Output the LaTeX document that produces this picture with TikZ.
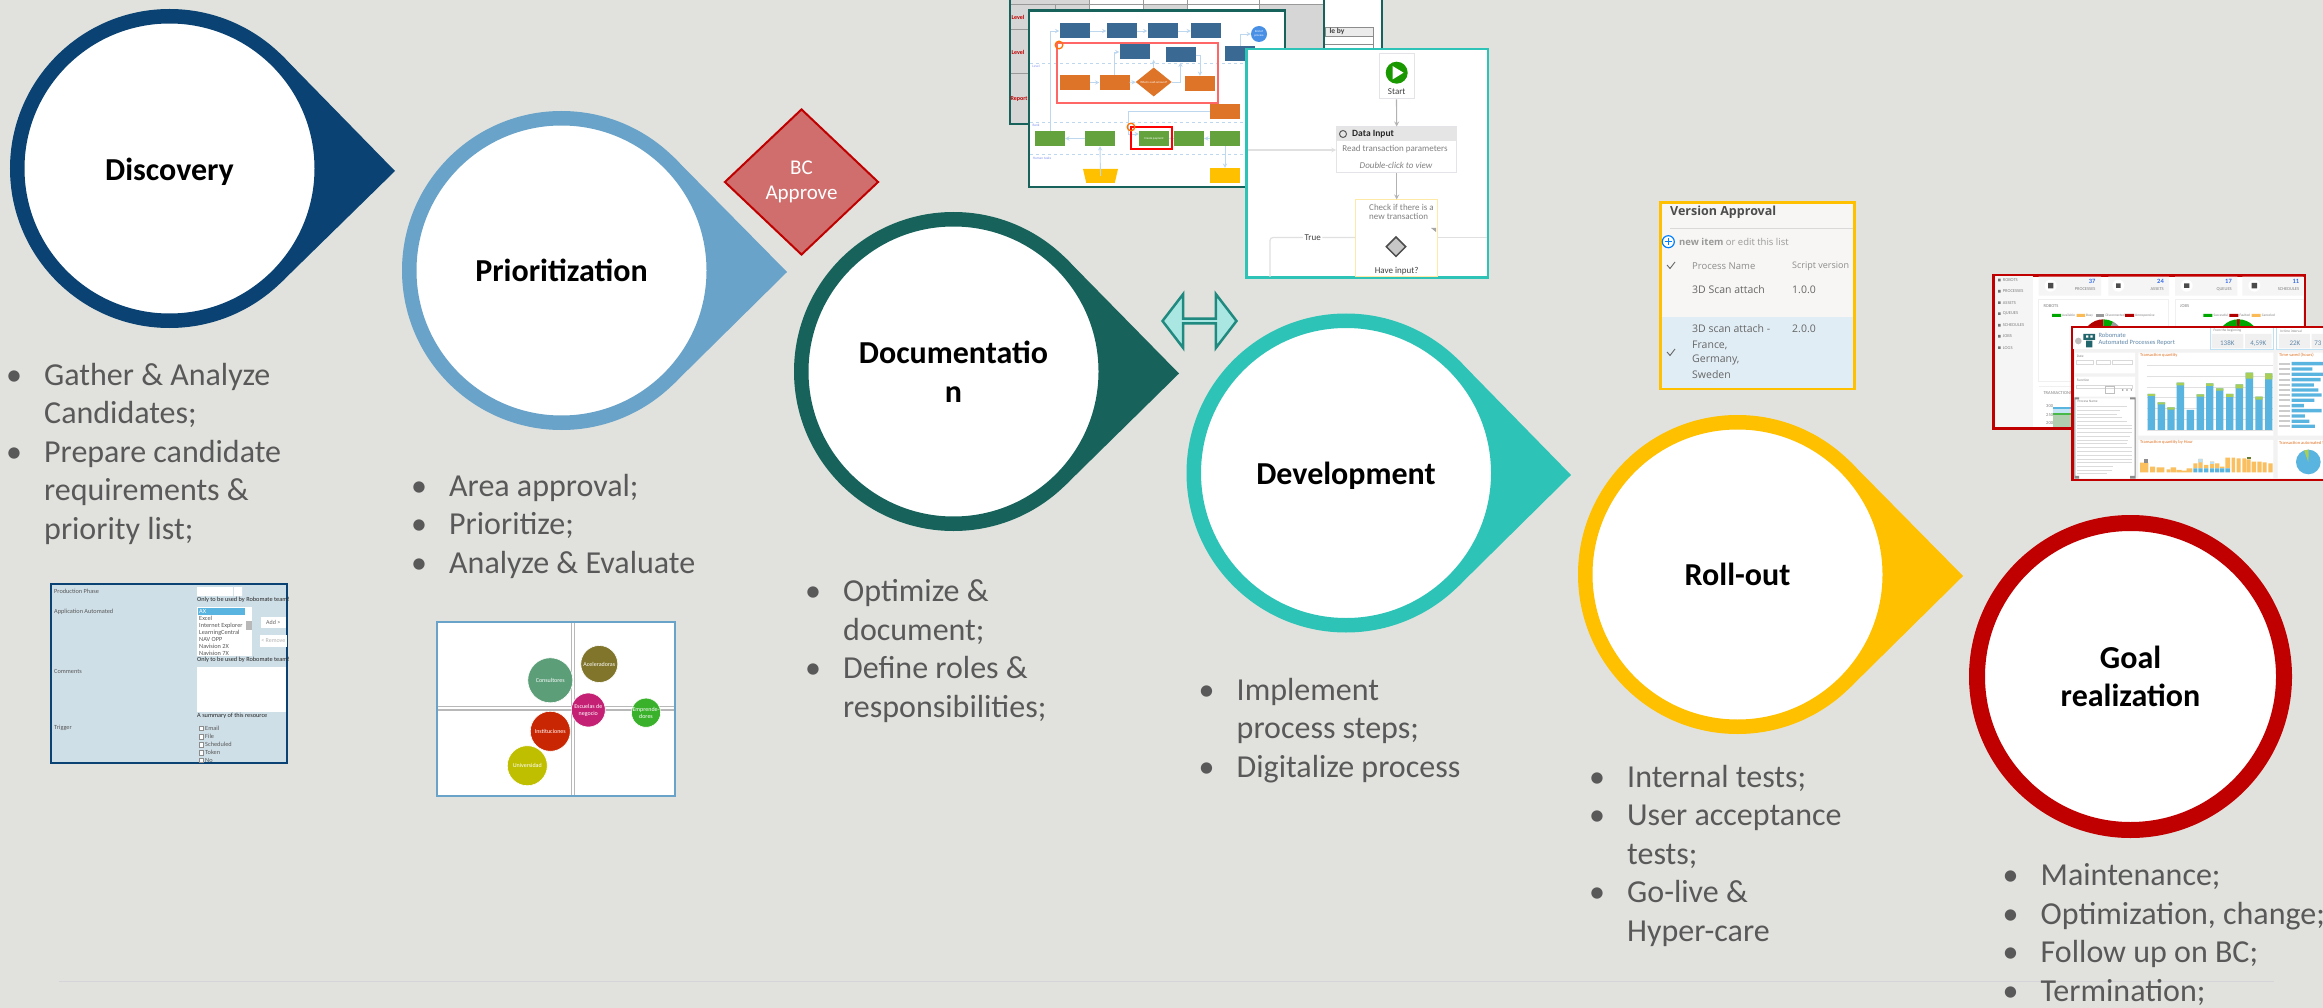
\documentclass[tikz,border=0pt]{standalone}
\usepackage{fontspec}
\setmainfont{Carlito}
\newfontfamily\uifont{Open Sans}
\usepackage{xcolor}
\usetikzlibrary{shapes.geometric, shapes.arrows, arrows, backgrounds}

\definecolor{pagebg}{HTML}{E1E2DD}
\definecolor{footline}{HTML}{D4D4D9}
\definecolor{discblue}{HTML}{0A4373}
\definecolor{prioblue}{HTML}{69A3C9}
\definecolor{docgreen}{HTML}{17635C}
\definecolor{devteal}{HTML}{2DC4B7}
\definecolor{rollyellow}{HTML}{FFC000}
\definecolor{goalred}{HTML}{C00000}
\definecolor{approvered}{HTML}{CF6E6C}
\definecolor{listgrey}{HTML}{595959}
\definecolor{formblue}{HTML}{CFDFE7}
\definecolor{flowblue}{HTML}{3A6A94}
\definecolor{floworange}{HTML}{DD7428}
\definecolor{flowgreen}{HTML}{64A23D}
\definecolor{flowline}{HTML}{BDD7EE}
\definecolor{barblue}{HTML}{5AB4E0}
\definecolor{bargreen}{HTML}{A9CE55}
\definecolor{barorange}{HTML}{FAC060}
\definecolor{versionbg}{HTML}{F7F6F4}
\definecolor{versionrow}{HTML}{E1EDF5}

\tikzstyle{stage} = [circle, minimum size=304.5pt, inner sep=0pt, line width=14.5pt, fill=white, text=black, align=center, font=\fontsize{32}{38.5}\selectfont\bfseries]
\tikzstyle{oneline} = [text height=22pt, text depth=0pt]
\tikzstyle{steps} = [anchor=base west, inner sep=0pt, align=left, text=listgrey, font=\fontsize{32}{38.5}\selectfont]
\tikzstyle{shot} = [rectangle, inner sep=0pt, fill=white]
\tikzstyle{flowbox} = [rectangle, minimum width=30pt, minimum height=15pt, inner sep=0pt, text=white, font=\fontsize{3}{3.6}\selectfont, align=center]
\tikzstyle{flowarrow} = [draw=flowline, line width=0.9pt, ->, >=stealth]
\tikzstyle{lane} = [draw=flowline, dashed, line width=0.8pt]
\tikzstyle{bpmncard} = [rectangle, inner sep=0pt, fill=white, draw=blue!8!gray!20, line width=1pt]
\tikzstyle{bpmnarrow} = [draw=gray!60, line width=1.2pt, ->, >=stealth]
\tikzstyle{bpmntext} = [inner sep=0pt, text=gray, align=left, font=\fontsize{9}{9.5}\selectfont]
\tikzstyle{formtext} = [anchor=west, inner sep=0pt, text=black!65, font=\fontsize{6.3}{7}\selectfont]
\tikzstyle{bubble} = [circle, inner sep=0pt, draw=white, line width=0.6pt, text=white, align=center, font=\fontsize{6}{7}\selectfont]
\tikzstyle{uitext} = [anchor=west, inner sep=0pt, text=black!60, font=\uifont\fontsize{9.5}{11}\selectfont]
\tikzstyle{dashtext} = [anchor=west, inner sep=0pt, text=gray, font=\fontsize{4.5}{5.5}\selectfont]

% the pointed side of a stage sits behind its white circle
\newcommand{\stagetip}[3]{%
  \coordinate (#1 tip) at (#3);
  \begin{pgfonlayer}{background}
    \fill[#2] (#1.45) -- (#1 tip) -- (#1.-45) -- cycle;
  \end{pgfonlayer}}
\newcommand{\bl}{\makebox[31pt][l]{\hspace*{-7pt}\textbullet}}
\newcommand{\ct}{\hspace*{31pt}}

\begin{document}
\begin{tikzpicture}[x=1pt, y=-1pt]

  \useasboundingbox (0,0) rectangle (2323,1008);
  \begin{pgfonlayer}{background}
    \fill[pagebg] (0,0) rectangle (2323,1008);
  \end{pgfonlayer}
  \draw[draw=footline, line width=1pt] (59,981.5) -- (2274,981.5);

  % stages
  \node (disc) [stage, draw=discblue, oneline, text height=25pt] at (169.5,168.5) {Discovery};
  \stagetip{disc}{discblue}{395,171}
  \node (prio) [stage, draw=prioblue, oneline] at (561.5,270.5) {Prioritization};
  \stagetip{prio}{prioblue}{787,272}
  \node (doc) [stage, draw=docgreen] at (953.5,371.5) {Documentatio\\n};
  \stagetip{doc}{docgreen}{1179,373.5}
  \node (dev) [stage, draw=devteal, oneline] at (1346,473) {Development};
  \stagetip{dev}{devteal}{1571,475}
  \node (roll) [stage, draw=rollyellow, oneline] at (1737.5,574.5) {Roll-out};
  \stagetip{roll}{rollyellow}{1963,576}
  \node (goal) [stage, draw=goalred, minimum size=307pt, line width=16pt] at (2130.5,676.5) {Goal\\realization};

  \node (approve) [diamond, minimum width=154pt, minimum height=146pt, inner sep=0pt, draw=goalred, line width=2pt, fill=approvered, text=white, align=center, font=\fontsize{21}{25.5}\selectfont] at (801.5,182) {BC\\Approve};
  \node (handover) [double arrow, minimum height=74pt, minimum width=54pt, double arrow head extend=13pt, double arrow tip angle=105, inner sep=0pt, draw=docgreen!60!devteal, fill=devteal!40!white, line width=2.5pt] at (1199.5,321) {};

  % texts under the stages
  \node (disc steps) [steps] at (13,539) {\bl Gather \& Analyze\\\ct Candidates;\\\bl Prepare candidate\\\ct requirements \&\\\ct priority list;};
  \node (prio steps) [steps] at (418,573) {\bl Area approval;\\\bl Prioritize;\\\bl Analyze \& Evaluate};
  \node (doc steps) [steps] at (812,717) {\bl Optimize \&\\\ct document;\\\bl Define roles \&\\\ct responsibilities;};
  \node (dev steps) [steps] at (1205.5,777) {\bl Implement\\\ct process steps;\\\bl Digitalize process};
  \node (roll steps) [steps] at (1596,941) {\bl Internal tests;\\\bl User acceptance\\\ct tests;\\\bl Go-live \&\\\ct Hyper-care};
  \node (goal steps) [steps] at (2009.5,1001) {\bl Maintenance;\\\bl Optimization, change;\\\bl Follow up on BC;\\\bl Termination;};

  % form under discovery
  \filldraw[fill=formblue, draw=discblue, line width=2pt] (51,584) rectangle (287,763);
  \fill[white] (197,587) rectangle (233,596) (234,587) rectangle (242,596);
  \node (f phase) [formtext] at (54,591) {Production Phase};
  \node (f only a) [formtext, text=black!85] at (197,599.5) {Only to be used by Robomate team!};
  \node (f app) [formtext] at (54,612) {Application Automated};
  \node (f list) [shot, minimum width=55pt, minimum height=49pt] at (224.5,631.5) {};
  \fill[barblue] (198,608) rectangle (245,615);
  \fill[black!28] (245.5,621) rectangle (251.5,630);
  \node (f ax) [formtext, text=white] at (199,611.7) {AX};
  \node (f excel) [formtext] at (199,618.7) {Excel};
  \node (f ie) [formtext] at (199,625.7) {Internet Explorer};
  \node (f lc) [formtext] at (199,632.7) {LearningCentral};
  \node (f opp) [formtext] at (199,639.7) {NAV OPP};
  \node (f nav a) [formtext] at (199,646.7) {Navision 2X};
  \node (f nav b) [formtext] at (199,653.2) {Navision 7X};
  \node (f add) [shot, minimum width=25pt, minimum height=11.5pt, font=\fontsize{6}{7}\selectfont, text=black!60] at (273.2,622.3) {Add >};
  \node (f remove) [shot, minimum width=26.5pt, minimum height=11.5pt, font=\fontsize{6}{7}\selectfont, text=black!30] at (273.3,640.8) {< Remove};
  \node (f only b) [formtext, text=black!85] at (197,659.5) {Only to be used by Robomate team!};
  \node (f com) [formtext] at (54,671) {Comments};
  \fill[white] (197,667) rectangle (286,711.5);
  \node (f sum) [formtext, text=black!85] at (197,715.7) {A summary of this resource};
  \node (f trig) [formtext] at (54,727.7) {Trigger};
  \draw[draw=black!45, fill=white, line width=0.4pt] (199,726) rectangle (203.5,730.5) (199,734.5) rectangle (203.5,739) (199,742.5) rectangle (203.5,747) (199,750.5) rectangle (203.5,755) (199,758) rectangle (203.5,762);
  \node (f email) [formtext] at (205,728) {Email};
  \node (f file) [formtext] at (205,736.7) {File};
  \node (f sched) [formtext] at (205,744.7) {Scheduled};
  \node (f token) [formtext] at (205,752.7) {Token};
  \node (f no) [formtext] at (205,760) {No};

  % bubble chart under prioritization
  \definecolor{bubconsult}{HTML}{5B9E78}
  \definecolor{bubacel}{HTML}{80752A}
  \definecolor{bubescuela}{HTML}{C42175}
  \definecolor{bubempr}{HTML}{3AB12B}
  \definecolor{bubinst}{HTML}{C92703}
  \definecolor{bubuniv}{HTML}{BFBF00}
  \node (matrix) [shot, draw=prioblue, line width=2pt, minimum width=238pt, minimum height=173.7pt] at (556,709.2) {};
  \draw[draw=black!28, line width=1.1pt] (438,706.7) -- (571.3,706.7) (438,710) -- (674,710) (574.7,706.7) -- (674,706.7) (571.3,623) -- (571.3,795) (574.7,623) -- (574.7,795);
  \node (consult) [bubble, fill=bubconsult, minimum size=45pt] at (550.3,680.3) {Consultores};
  \node (acel) [bubble, fill=bubacel, minimum size=37pt] at (599.3,664) {Aceleradoras};
  \node (escuela) [bubble, fill=bubescuela, minimum size=34pt] at (588.3,710) {Escuelas de\\negocio};
  \node (empr) [bubble, fill=bubempr, minimum size=29pt] at (646,712.7) {Emprende-\\dores};
  \node (inst) [bubble, fill=bubinst, minimum size=40pt] at (550.3,731.3) {Instituciones};
  \node (univ) [bubble, fill=bubuniv, minimum size=40pt] at (527.3,765.7) {Universidad};

  % spreadsheet behind the process map
  \fill[black!16] (1010,0) rectangle (1324,124);
  \fill[white] (1324,0) rectangle (1382,60);
  \fill[white] (1089,0) rectangle (1143,10) (1187,0) rectangle (1259,10) (1143,0) rectangle (1187,4) (1259,0) rectangle (1324,4);
  \draw[draw=black!40, line width=0.8pt] (1010,4) -- (1324,4) (1010,29) -- (1029,29) (1010,73) -- (1029,73) (1055,4) -- (1055,10) (1089,0) -- (1089,10) (1143,0) -- (1143,10) (1187,0) -- (1187,10) (1259,0) -- (1259,10);
  \draw[draw=docgreen, line width=2pt] (1010,0) -- (1010,124) -- (1029,124) (1324,0) -- (1324,49) (1382,0) -- (1382,49);
  \draw[draw=black!45, fill=black!8, line width=0.8pt] (1325,27) rectangle (1373,36);
  \draw[draw=black!45, line width=0.8pt] (1325,44) -- (1373,44) (1373,36) -- (1373,49);
  \node (sheet by) [inner sep=0pt, font=\fontsize{7.5}{8}\selectfont\bfseries, text=black!75] at (1337,31.5) {le by};
  \node (sheet a) [inner sep=0pt, font=\fontsize{6}{7}\selectfont\bfseries, text=red!75!black] at (1018,17.5) {Level};
  \node (sheet b) [inner sep=0pt, font=\fontsize{6}{7}\selectfont\bfseries, text=red!75!black] at (1018,52) {Level};
  \node (sheet c) [inner sep=0pt, font=\fontsize{6}{7}\selectfont\bfseries, text=red!75!black] at (1019,99) {Report};

  % process map
  \node (map) [shot, draw=docgreen, line width=2.5pt, minimum width=256pt, minimum height=176.5pt] at (1157,99) {};
  \draw[lane] (1030,63) -- (1284,63) (1030,122) -- (1284,122) (1030,154) -- (1284,154);
  \node (lane a) [inner sep=0pt, text=flowline!70!blue, font=\fontsize{3.5}{4}\selectfont] at (1036,66) {Level};
  \node (lane b) [inner sep=0pt, text=flowline!70!blue, font=\fontsize{3.5}{4}\selectfont] at (1036,125) {Bank};
  \node (lane c) [inner sep=0pt, text=flowline!70!blue, font=\fontsize{3.5}{4}\selectfont] at (1042,158) {Human tasks};
  \node (b1) [flowbox, fill=flowblue] at (1074.5,31) {};
  \node (b2) [flowbox, fill=flowblue] at (1121.5,31) {};
  \node (b3) [flowbox, fill=flowblue] at (1162.5,31) {};
  \node (b4) [flowbox, fill=flowblue] at (1206,31) {};
  \node (b5) [flowbox, fill=flowblue] at (1134.5,52) {};
  \node (b6) [flowbox, fill=flowblue] at (1180.5,55) {};
  \node (b7) [flowbox, fill=flowblue] at (1240,53.5) {};
  \node (bend) [circle, minimum size=16pt, inner sep=0pt, fill=barblue!80!blue, text=white, align=center, font=\fontsize{3}{3.6}\selectfont] at (1259,34) {End of\\process};
  \node (o1) [flowbox, fill=floworange] at (1075,82.5) {};
  \node (o2) [flowbox, fill=floworange] at (1114.5,82.5) {};
  \node (odia) [diamond, minimum width=36pt, minimum height=26pt, inner sep=0pt, fill=floworange, text=white, font=\fontsize{3}{3.6}\selectfont] at (1153.7,82) {What is cash amount?};
  \node (o3) [flowbox, fill=floworange] at (1200,83.5) {};
  \node (o4) [flowbox, fill=floworange] at (1225,111.5) {};
  \node (g1) [flowbox, fill=flowgreen] at (1050,138.5) {};
  \node (g2) [flowbox, fill=flowgreen] at (1100,138.5) {};
  \node (g3) [flowbox, fill=flowgreen] at (1154,138.5) {Create payment};
  \node (g4) [flowbox, fill=flowgreen] at (1189,138.5) {};
  \node (g5) [flowbox, fill=flowgreen] at (1225,138.5) {};
  \node (y1) [trapezium, trapezium stretches=true, shape border rotate=180, trapezium left angle=74, trapezium right angle=74, minimum width=35pt, minimum height=14pt, inner sep=0pt, fill=rollyellow] at (1100.5,176) {\phantom{\rule{10pt}{4pt}}};
  \node (y2) [flowbox, fill=rollyellow] at (1225,175.5) {};
  \draw[flowarrow] (b1) -- (b2);
  \draw[flowarrow] (b2) -- (b3);
  \draw[flowarrow] (b3) -- (b4);
  \draw[flowarrow] (g1.north) |- (b1.west);
  \draw[flowarrow] (b7.north) |- (bend.west);
  \draw[flowarrow] (o1) -- (o2);
  \draw[flowarrow] (o2) -- (odia);
  \draw[flowarrow] (o2.north) |- (b5.west);
  \draw[flowarrow] (odia.north) -- (odia.north |- b5.south);
  \draw[flowarrow] (odia.east) -| (b6.south);
  \draw[flowarrow] (b6.east) -| (o3.north);
  \draw[flowarrow] (g5) -- (g4);
  \draw[flowarrow] (g4) -- (g3);
  \draw[flowarrow] (g2) -- (g1);
  \draw[flowarrow] (y1.center) -- (g2.south);
  \draw[flowarrow] (g5.south) -- (y2.north);
  \draw[flowarrow] (o4.west) -| (1128,134) -- (g3.west |- 0,134);
  \draw[draw=red!60!white, line width=1.5pt] (1057,43) rectangle (1218,103);
  \draw[draw=red, line width=1.2pt] (1131,127) rectangle (1172,149);
  \draw[draw=orange!90!red, line width=1.3pt] (1059,45) circle (3.8) (1131,127) circle (3.8);

  % workflow in front of the process map
  \node (flow) [shot, draw=devteal, line width=2.5pt, minimum width=241.5pt, minimum height=228.5pt] at (1367.2,163.3) {};
  \node (start) [bpmncard, minimum width=35pt, minimum height=45pt] at (1396.5,76.5) {};
  \node (start dot) [circle, minimum size=22pt, inner sep=0pt, fill=green!55!black!90!yellow] at (1396.7,72.7) {};
  \fill[white] (1392.5,66) -- (1403.5,72.7) -- (1392.5,79.5) -- cycle;
  \node (start txt) [bpmntext, text=black!75] at (1396.7,91.7) {Start};
  \node (input) [bpmncard, minimum width=120pt, minimum height=46pt] at (1396.7,150) {};
  \fill[black!10] (1337,127.5) rectangle (1456.5,141);
  \draw[draw=black!65, line width=1pt] (1343,134) circle (3.5);
  \node (input head) [bpmntext, anchor=west, text=black!85, font=\fontsize{9.5}{10}\selectfont\bfseries] at (1352,134) {Data Input};
  \node (input txt) [bpmntext] at (1395,148.7) {Read transaction parameters};
  \node (input view) [bpmntext, font=\fontsize{9}{10}\selectfont\itshape] at (1396,165) {Double-click to view};
  \node (check) [bpmncard, draw=rollyellow!35!white, minimum width=81.5pt, minimum height=77pt] at (1396.3,238.5) {};
  \node (check txt) [bpmntext, anchor=north west] at (1369,204) {Check if there is a\\new transaction};
  \node (check sign) [diamond, minimum size=20pt, inner sep=0pt, fill=black!22, draw=black!70, line width=1.5pt] at (1396,246.7) {};
  \node (check q) [bpmntext, text=black!75] at (1396.7,271) {Have input?};
  \fill[gray!70] (1431,228) -- (1436,228) -- (1436,232) -- cycle;
  \coordinate (flow left) at (1248,150);
  \coordinate (true down) at (1270,277);
  \coordinate (false right) at (1487,237.5);
  \draw[bpmnarrow] (start) -- (input);
  \draw[bpmnarrow] (input) -- (check.north -| input);
  \draw[bpmnarrow, draw=black!12] (flow left) -- (input.west);
  \draw[draw=black!12, line width=1.2pt, rounded corners=3pt] (check.west |- false right) -| (true down);
  \draw[draw=black!12, line width=1.2pt] (check.east |- false right) -- (false right);
  \node (true pill) [rectangle, rounded corners=4pt, fill=white, inner sep=1.5pt, text=black!75, font=\fontsize{9}{10}\selectfont] at (1312.7,237.5) {True};

  % version list above roll-out
  \node (version) [shot, fill=versionbg, draw=rollyellow, line width=2.5pt, minimum width=194pt, minimum height=186.4pt] at (1757.3,295.5) {};
  \fill[versionrow] (1661.5,317) rectangle (1853,387.5);
  \node (v title) [uitext, text=black!70, font=\uifont\bfseries\fontsize{12.5}{14}\selectfont] at (1670,212) {Version Approval};
  \draw[draw=black!15, line width=0.8pt] (1670,228) -- (1853,228);
  \node (v plus) [circle, minimum size=12pt, inner sep=0pt, draw=blue!50!cyan, line width=1.2pt, fill=white] at (1668.3,241.7) {};
  \draw[draw=blue!50!cyan, line width=1.4pt] (v plus.center) +(-3.5,0) -- +(3.5,0) (v plus.center) +(0,-3.5) -- +(0,3.5);
  \node (v new) [uitext, text=black!40, font=\uifont\fontsize{9.5}{11}\selectfont] at (1679,241.7) {\textbf{new item} or edit this list};
  \draw[draw=black!60, line width=0.9pt] (1667,265) -- (1670,268.5) -- (1675,262);
  \draw[draw=black!60, line width=0.9pt] (1667,352) -- (1670,355.5) -- (1675,349);
  \node (v name) [uitext, text=black!45] at (1692,266) {Process Name};
  \node (v script) [uitext, text=black!45, font=\uifont\fontsize{9}{11}\selectfont] at (1792,266) {Script version};
  \node (v one) [uitext, font=\uifont\fontsize{10.5}{12}\selectfont] at (1692,290) {3D Scan attach};
  \node (v one n) [uitext, font=\uifont\fontsize{10.5}{12}\selectfont] at (1792,290) {1.0.0};
  \node (v two) [uitext, font=\uifont\fontsize{10.5}{12}\selectfont] at (1692,329) {3D scan attach -};
  \node (v two n) [uitext, font=\uifont\fontsize{10.5}{12}\selectfont] at (1792,329) {2.0.0};
  \node (v fr) [uitext, font=\uifont\fontsize{10.5}{12}\selectfont] at (1692,345.3) {France,};
  \node (v de) [uitext, font=\uifont\fontsize{10.5}{12}\selectfont] at (1692,360) {Germany,};
  \node (v se) [uitext, font=\uifont\fontsize{10.5}{12}\selectfont] at (1692,375) {Sweden};

  % dashboards, in the pixels of a 3x crop
  \begin{scope}[shift={(1980,260)}, x=0.3333pt, y=-0.3333pt]
    \node (robots) [shot, draw=goalred, line width=2.5pt, minimum width=311.3pt, minimum height=153pt] at (508,275.5) {};
    \fill[black!4] (44,49) rectangle (160,502);
    \fill[black!4] (176,50) rectangle (363,107) (385,50) rectangle (567,107) (585,50) rectangle (772,107) (787,50) rectangle (970,107);
    \draw[draw=black!6, line width=0.8pt] (176,118) rectangle (565,365) (585,118) rectangle (970,365) (176,380) -- (970,380);
    \node (d robots) [dashtext] at (68,60) {ROBOTS};
    \node (d proc) [dashtext] at (68,94) {PROCESSES};
    \node (d assets) [dashtext] at (68,128) {ASSETS};
    \node (d queues) [dashtext] at (68,161) {QUEUES};
    \node (d sched) [dashtext] at (68,196) {SCHEDULES};
    \node (d jobs) [dashtext] at (68,229) {JOBS};
    \node (d logs) [dashtext] at (68,263) {LOGS};
    \fill[black!55] (54,56) rectangle (62,64) (54,90) rectangle (62,98) (54,124) rectangle (62,132) (54,157) rectangle (62,165) (54,192) rectangle (62,200) (54,225) rectangle (62,233) (54,259) rectangle (62,267);
    \fill[white] (212,77) circle (18) (415,77) circle (18) (620,77) circle (18) (823,77) circle (18);
    \fill[black!70] (204,69) rectangle (220,85) (408,70) rectangle (422,84) (612,70) rectangle (628,84) (815,69) rectangle (831,85);
    \node (k proc) [dashtext, text=barblue!60!blue, anchor=east, font=\fontsize{6.5}{7}\selectfont\bfseries] at (347,65) {37};
    \node (k proc l) [dashtext, anchor=east] at (347,87) {PROCESSES};
    \node (k assets) [dashtext, text=barblue!60!blue, anchor=east, font=\fontsize{6.5}{7}\selectfont\bfseries] at (552,65) {24};
    \node (k assets l) [dashtext, anchor=east] at (552,87) {ASSETS};
    \node (k queues) [dashtext, text=barblue!60!blue, anchor=east, font=\fontsize{6.5}{7}\selectfont\bfseries] at (756,65) {17};
    \node (k queues l) [dashtext, anchor=east] at (756,87) {QUEUES};
    \node (k sched) [dashtext, text=barblue!60!blue, anchor=east, font=\fontsize{6.5}{7}\selectfont\bfseries] at (958,65) {11};
    \node (k sched l) [dashtext, anchor=east] at (958,87) {SCHEDULES};
    \node (r head) [dashtext] at (190,138) {ROBOTS};
    \node (j head) [dashtext] at (600,138) {JOBS};
    \fill[green!65!black] (216,162) rectangle (243,171) (670,162) rectangle (697,171);
    \fill[barorange!90!orange] (290,162) rectangle (315,171) (815,162) rectangle (842,171);
    \fill[black!40] (347,162) rectangle (373,171);
    \fill[red!70!black] (435,162) rectangle (462,171) (748,162) rectangle (775,171);
    \node (l avail) [dashtext, font=\fontsize{3.5}{4}\selectfont] at (246,166) {Available};
    \node (l busy) [dashtext, font=\fontsize{3.5}{4}\selectfont] at (318,166) {Busy};
    \node (l disc) [dashtext, font=\fontsize{3.5}{4}\selectfont] at (376,166) {Disconnected};
    \node (l unre) [dashtext, font=\fontsize{3.5}{4}\selectfont] at (465,166) {Unresponsive};
    \node (l succ) [dashtext, font=\fontsize{3.5}{4}\selectfont] at (700,166) {Successful};
    \node (l fault) [dashtext, font=\fontsize{3.5}{4}\selectfont] at (778,166) {Faulted};
    \node (l canc) [dashtext, font=\fontsize{3.5}{4}\selectfont] at (845,166) {Canceled};
    \fill[red!70!black] (370,241) -- +(180:63) arc[start angle=180, end angle=270, radius=63] -- cycle;
    \fill[green!65!black] (370,241) -- +(270:63) arc[start angle=270, end angle=298, radius=63] -- cycle;
    \fill[black!40] (370,241) -- +(298:63) arc[start angle=298, end angle=360, radius=63] -- cycle;
    \fill[green!65!black] (775,241) circle (63);
    \fill[red!70!black] (775,241) -- +(266:63) arc[start angle=266, end angle=274, radius=63] -- cycle;
    \node (t head) [dashtext] at (190,400) {TRANSACTIONS JOBS};
    \node (t a) [dashtext] at (198,438) {300};
    \node (t b) [dashtext] at (198,464) {250};
    \node (t c) [dashtext] at (198,490) {200};
    \fill[barblue] (218,440) rectangle (277,447);
    \fill[barblue!35!white] (218,447) rectangle (277,460);
    \fill[green!45!gray] (218,460) rectangle (277,466);
    \fill[green!25!gray!50!white] (218,466) rectangle (277,502);

    % report in front
    \filldraw[fill=black!5, draw=goalred, line width=2.5pt] (1029,660) -- (278,660) -- (278,201) -- (1029,201);
    \fill[white] (280,203) rectangle (1029,268);
    \fill[white] (285,278) rectangle (465,340) (285,350) rectangle (465,410) (285,415) rectangle (465,655);
    \fill[white] (475,278) rectangle (880,527) (475,540) rectangle (880,655) (893,278) rectangle (1029,527) (893,540) rectangle (1029,655);
    \fill[black!6] (695,222) rectangle (790,265) (795,222) rectangle (875,265) (897,222) rectangle (990,265) (995,222) rectangle (1029,265);
    \draw[draw=barblue!40!white, line width=0.8pt] (691,205) -- (691,268) -- (880,268) -- (880,205) (890,205) -- (890,268) -- (1029,268);
    \fill[docgreen!70!flowblue] (310,222) rectangle (345,240) (318,242) rectangle (337,262);
    \fill[white] (318,226) rectangle (325,233) (331,226) rectangle (338,233);
    \fill[black!25] (295,243) circle (10);
    \node (rep a) [dashtext, font=\fontsize{6.5}{7}\selectfont, text=flowblue!80!white] at (355,225) {Robomate};
    \node (rep b) [dashtext, font=\fontsize{6.5}{7}\selectfont, text=flowblue!80!white] at (355,249) {Automated Processes Report};
    \node (rep from) [dashtext, font=\fontsize{3.5}{4}\selectfont] at (700,213) {From the beginning};
    \node (rep int) [dashtext, font=\fontsize{3.5}{4}\selectfont] at (900,213) {In time interval};
    \node (kp a) [inner sep=0pt, text=flowblue!80!white, font=\fontsize{7}{8}\selectfont] at (742,250) {138K};
    \node (kp b) [inner sep=0pt, text=flowblue!80!white, font=\fontsize{7}{8}\selectfont] at (835,250) {4,59K};
    \node (kp c) [inner sep=0pt, text=flowblue!80!white, font=\fontsize{7}{8}\selectfont] at (945,250) {22K};
    \node (kp d) [inner sep=0pt, text=flowblue!80!white, font=\fontsize{7}{8}\selectfont] at (1014,250) {73};
    \node (ch date) [dashtext, font=\fontsize{3.5}{4}\selectfont] at (290,288) {Date};
    \node (ch func) [dashtext, font=\fontsize{3.5}{4}\selectfont] at (290,360) {Function};
    \node (ch proc) [dashtext, font=\fontsize{3.5}{4}\selectfont] at (292,425) {Process Name};
    \draw[draw=black!15, line width=0.6pt] (290,302) rectangle (340,312) (350,302) rectangle (390,312) (398,302) rectangle (456,312) (290,375) rectangle (456,385);
    \draw[draw=black!25, line width=1pt] (376,380) rectangle (402,402);
    \fill[black!45] (428,390) circle (2.5) (441,390) circle (2.5) (454,390) circle (2.5);
    \draw[draw=black!14, line width=1pt] (292,440) -- (440,440) (292,452) -- (420,452) (292,464) -- (410,464) (292,474) -- (425,474) (292,485) -- (440,485) (292,496) -- (455,496) (292,507) -- (455,507) (292,518) -- (455,518) (292,529) -- (450,529) (292,541) -- (445,541) (292,552) -- (440,552) (292,564) -- (455,564) (292,576) -- (455,576) (292,587) -- (455,587) (292,598) -- (455,598) (292,609) -- (455,609) (292,620) -- (400,620) (292,631) -- (395,631) (292,642) -- (380,642);
    \fill[black!45] (283,412) rectangle (297,418) (450,412) rectangle (467,418) (283,648) rectangle (297,656) (450,648) rectangle (467,656) (283,418) rectangle (286,648) (464,418) rectangle (467,648);
    \node (ch qty) [dashtext, font=\fontsize{4.5}{5}\selectfont, text=floworange] at (480,285) {Transaction quantity};
    \draw[draw=black!12, line width=0.6pt] (500,317) -- (878,317) (500,350) -- (878,350) (500,381) -- (878,381) (500,413) -- (878,413) (500,446) -- (878,446) (500,478) -- (878,478) (500,510) -- (878,510);
    \fill[barblue] (503,402) rectangle (525,510) (533,427) rectangle (555,510) (562,442) rectangle (584,510) (590,368) rectangle (612,510) (620,450) rectangle (642,510) (650,403) rectangle (672,510) (678,370) rectangle (700,510) (708,385) rectangle (730,510) (738,402) rectangle (760,510) (767,373) rectangle (789,510) (797,338) rectangle (819,510) (826,410) rectangle (848,510) (855,340) rectangle (877,510);
    \fill[bargreen] (503,402) rectangle (525,408) (533,427) rectangle (555,433) (562,442) rectangle (584,449) (590,368) rectangle (612,376) (650,403) rectangle (672,410) (678,370) rectangle (700,378) (708,385) rectangle (730,392) (738,402) rectangle (760,411) (767,373) rectangle (789,385) (797,338) rectangle (819,356) (826,410) rectangle (848,419) (855,340) rectangle (877,358);
    \node (ch time) [dashtext, font=\fontsize{4.5}{5}\selectfont, text=floworange] at (897,285) {Time saved (hours)};
    \fill[barblue] (935,306) rectangle (1029,316) (935,322) rectangle (997,332) (935,338) rectangle (1029,348) (935,354) rectangle (1022,364) (935,370) rectangle (1002,380) (935,385) rectangle (1015,395) (935,400) rectangle (1025,410) (935,416) rectangle (1003,426) (935,432) rectangle (972,442) (935,447) rectangle (1025,457) (935,463) rectangle (975,473) (935,479) rectangle (988,489) (935,494) rectangle (1005,504);
    \draw[draw=black!20, line width=1.8pt] (897,311) -- (930,311) (897,327) -- (930,327) (897,343) -- (930,343) (897,359) -- (930,359) (897,375) -- (930,375) (897,390) -- (930,390) (897,405) -- (930,405) (897,421) -- (930,421) (897,437) -- (930,437) (897,452) -- (930,452) (897,468) -- (930,468) (897,484) -- (930,484) (897,499) -- (930,499);
    \node (ch hour) [dashtext, font=\fontsize{4.5}{5}\selectfont, text=floworange] at (480,548) {Transaction quantity by Hour};
    \fill[barorange] (480,608) rectangle (505,637) (510,620) rectangle (525,637) (530,622) rectangle (553,637) (560,628) rectangle (570,637) (572,622) rectangle (588,637) (590,630) rectangle (605,637) (605,632) rectangle (620,637) (620,625) rectangle (637,637) (640,610) rectangle (652,625) (655,597) rectangle (668,625) (672,615) rectangle (685,625) (690,605) rectangle (702,625) (705,610) rectangle (718,625) (720,620) rectangle (733,625) (736,593) rectangle (750,625) (755,593) rectangle (765,637) (770,595) rectangle (782,637) (787,595) rectangle (798,637) (800,598) rectangle (812,637) (815,605) rectangle (828,637) (832,605) rectangle (845,637) (848,607) rectangle (860,637) (865,610) rectangle (878,637);
    \fill[barblue] (640,625) rectangle (652,637) (655,625) rectangle (668,637) (672,625) rectangle (685,637) (690,625) rectangle (702,637) (705,625) rectangle (718,637) (720,625) rectangle (733,637) (736,625) rectangle (750,637);
    \fill[black!45] (492,597) rectangle (505,608);
    \fill[barblue!40!white] (655,597) rectangle (668,607) (690,605) rectangle (702,612);
    \fill[bargreen!60!black] (800,592) rectangle (812,598);
    \node (ch pct) [dashtext, font=\fontsize{4.5}{5}\selectfont, text=floworange] at (897,548) {Transaction automated \%};
    \fill[barblue] (985,606) circle (37);
    \fill[bargreen] (985,606) -- +(250:37) arc[start angle=250, end angle=272, radius=37] -- cycle;
  \end{scope}

\end{tikzpicture}
\end{document}
